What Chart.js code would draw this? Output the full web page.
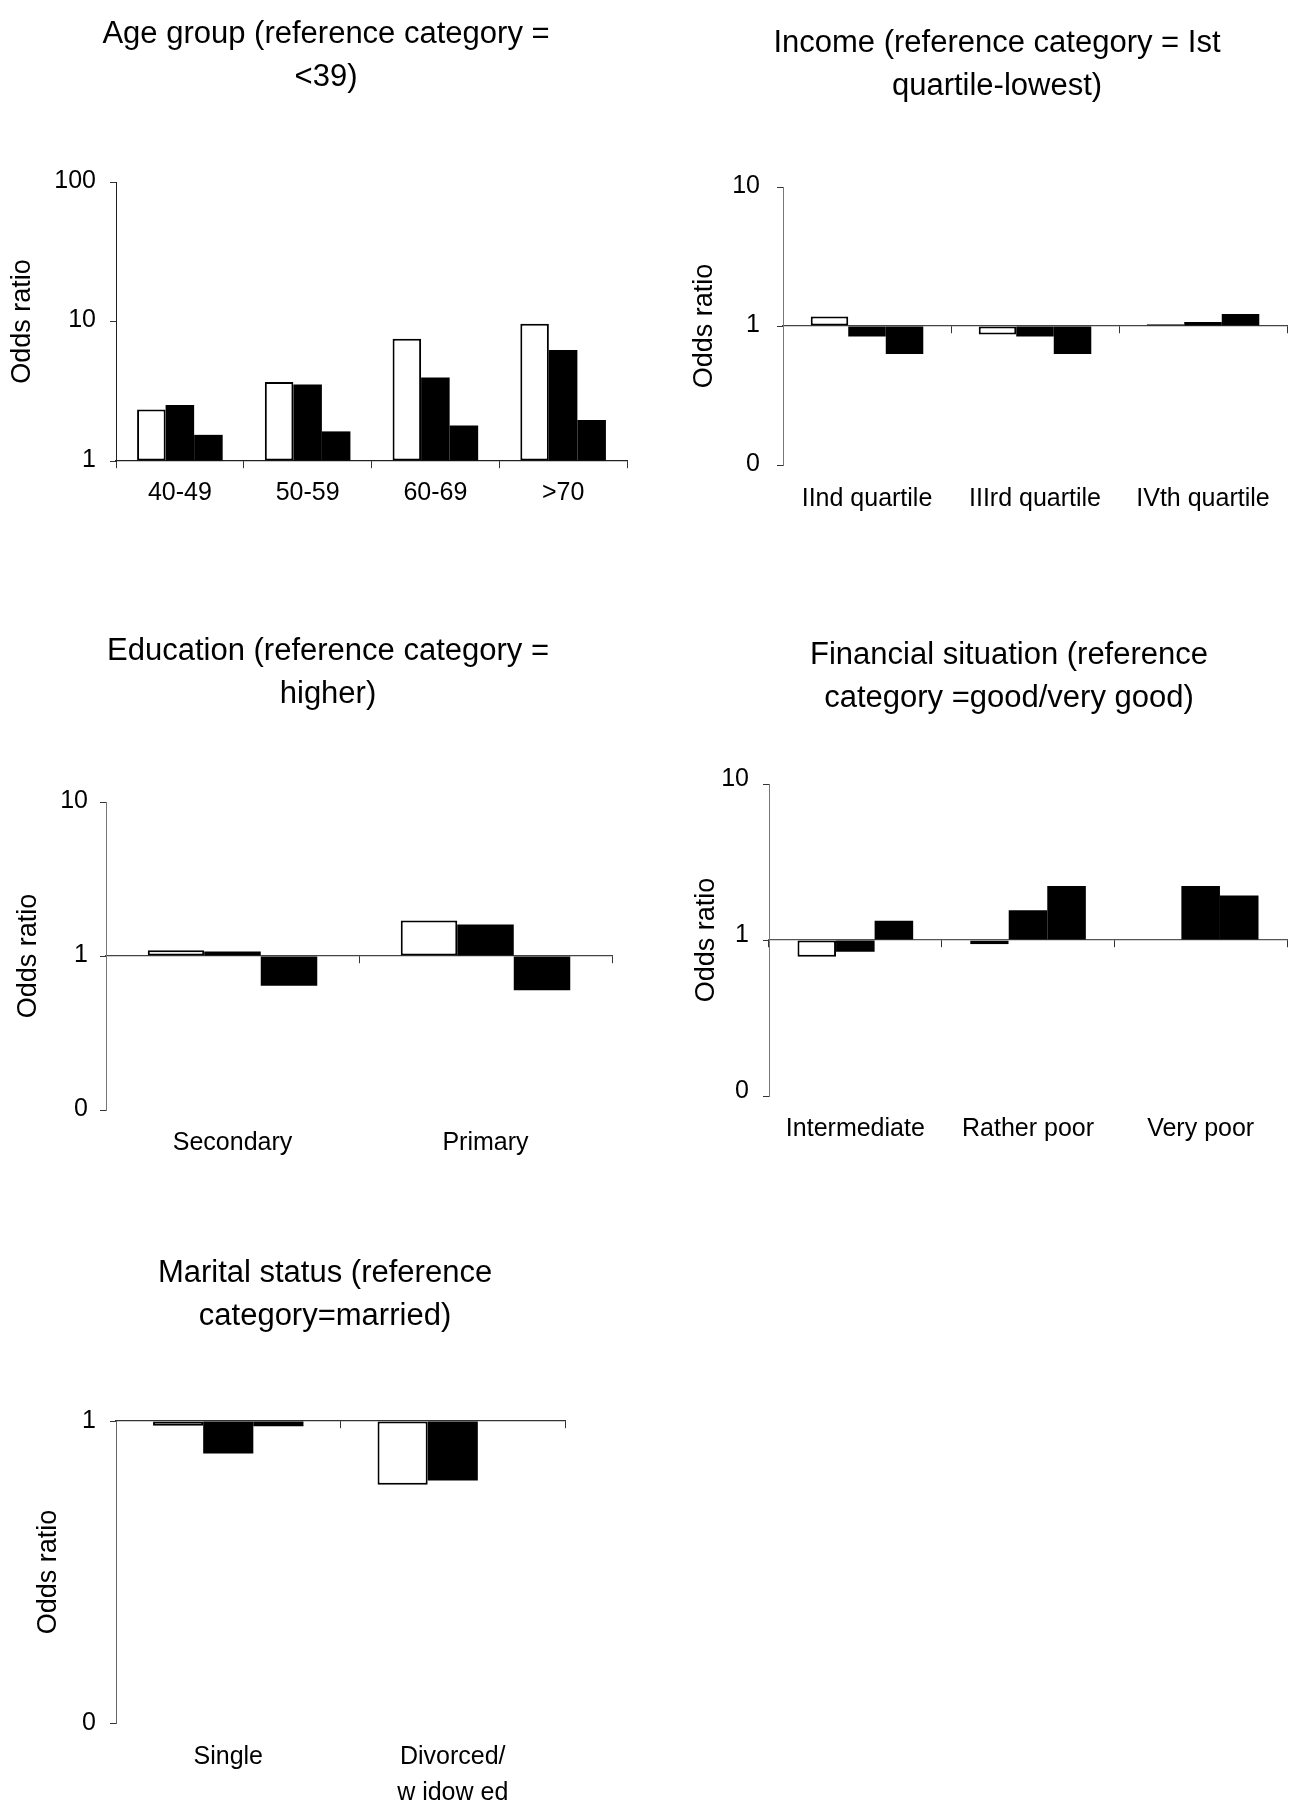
<!DOCTYPE html>
<html>
<head>
<meta charset="utf-8">
<script src="https://cdn.jsdelivr.net/npm/chart.js@4.4.1/dist/chart.umd.min.js"></script>
<style>
  html, body { margin: 0; padding: 0; background: #fff; width: 1302px; height: 1804px; overflow: hidden; }
  .panel { position: absolute; }
  .panel canvas { display: block; }
</style>
</head>
<body>
<div class="panel" id="p-age"><canvas id="c-age"></canvas></div>
<div class="panel" id="p-income"><canvas id="c-income"></canvas></div>
<div class="panel" id="p-edu"><canvas id="c-edu"></canvas></div>
<div class="panel" id="p-fin"><canvas id="c-fin"></canvas></div>
<div class="panel" id="p-mar"><canvas id="c-mar"></canvas></div>
<script>
// ---- Odds ratios (three models per category: white bar, then two black bars) ----
const ageCategories = ['40-49', '50-59', '60-69', '>70'];
const ageModel1 = [2.34, 3.68, 7.53, 9.63];
const ageModel2 = [2.52, 3.54, 3.97, 6.24];
const ageModel3 = [1.54, 1.63, 1.8, 1.97];
const ageTicks = [1, 10, 100];

const incomeCategories = ['IInd quartile', 'IIIrd quartile', 'IVth quartile'];
const incomeModel1 = [1.17, 0.87, 1.03];
const incomeModel2 = [0.84, 0.84, 1.07];
const incomeModel3 = [0.63, 0.63, 1.22];
const incomeTicks = [0.1, 1, 10];

const eduCategories = ['Secondary', 'Primary'];
const eduModel1 = [1.09, 1.7];
const eduModel2 = [1.07, 1.6];
const eduModel3 = [0.64, 0.6];
const eduTicks = [0.1, 1, 10];

const finCategories = ['Intermediate', 'Rather poor', 'Very poor'];
const finModel1 = [0.78, 0.94, 1.0];
const finModel2 = [0.84, 1.55, 2.22];
const finModel3 = [1.33, 2.22, 1.93];
const finTicks = [0.1, 1, 10];

const maritalCategories = ['Single', ['Divorced/', 'w idow ed']];
const maritalModel1 = [0.965, 0.615];
const maritalModel2 = [0.78, 0.635];
const maritalModel3 = [0.96, 1.0];
const maritalTicks = [0.1, 1];

const ageTitle = ['Age group (reference category =', '<39)'];
const incomeTitle = ['Income (reference category = Ist', 'quartile-lowest)'];
const eduTitle = ['Education (reference category =', 'higher)'];
const finTitle = ['Financial situation (reference', 'category =good/very good)'];
const maritalTitle = ['Marital status (reference', 'category=married)'];
const yAxisTitle = 'Odds ratio';

// ---- drawing ----
const FAMILY = "'Liberation Sans', Arial, Helvetica, sans-serif";
const TITLE_SIZE = 31, TITLE_LH = 1.4;
const TICK_SIZE = 25, CAT_SIZE = 25, YTITLE_SIZE = 27, LABEL_LH = 1.2;

Chart.defaults.font.family = FAMILY;
Chart.defaults.color = '#000';

function makePanel(panelId, canvasId, geo, spec) {
  const {box, area} = geo;
  const div = document.getElementById(panelId);
  div.style.left = box.left + 'px';
  div.style.top = box.top + 'px';
  const canvas = document.getElementById(canvasId);
  canvas.width = box.width;
  canvas.height = box.height;
  canvas.style.width = box.width + 'px';
  canvas.style.height = box.height + 'px';

  const catLH = geo.catLH || LABEL_LH;
  const titleLine = TITLE_SIZE * TITLE_LH;
  const titlePadTop = geo.titleY - box.top - titleLine / 2;
  const titlePadBottom = area.top - box.top - titlePadTop - 2 * titleLine;
  const yAxisWidth = area.left - box.left;
  const rightGap = box.left + box.width - area.right;
  const xLabelHeight = box.top + box.height - area.bottom;
  const catPad = geo.catY - area.bottom - (CAT_SIZE * catLH) / 2;
  const yTitlePad = geo.yTitleX - box.left - (YTITLE_SIZE * LABEL_LH) / 2;

  const bar = (values, fill, border) => ({
    data: values,
    base: 1,
    backgroundColor: fill,
    borderColor: '#000',
    borderWidth: border,
    borderSkipped: false,
    barPercentage: 1.0,
    categoryPercentage: 0.67
  });

  return new Chart(canvas, {
    type: 'bar',
    data: {
      labels: spec.categories,
      datasets: [
        bar(spec.series[0], '#ffffff', 2),
        bar(spec.series[1], '#000000', 0),
        bar(spec.series[2], '#000000', 0)
      ]
    },
    options: {
      responsive: false,
      animation: false,
      devicePixelRatio: 1,
      layout: { padding: 0 },
      plugins: {
        legend: { display: false },
        tooltip: { enabled: false },
        title: {
          display: true,
          text: spec.title,
          color: '#000',
          font: { family: FAMILY, size: TITLE_SIZE, weight: 'normal', lineHeight: TITLE_LH },
          padding: { top: titlePadTop, bottom: titlePadBottom }
        }
      },
      scales: {
        // category baseline drawn through the value 1
        x: {
          type: 'category',
          position: { y: 1 },
          offset: true,
          ticks: { display: false },
          grid: { display: true, drawOnChartArea: false, drawTicks: true, tickLength: 7, offset: true, color: '#333', lineWidth: 1 },
          border: { display: true, color: geo.xAxisColor, width: 1.2 }
        },
        // category names under the plot
        xNames: {
          type: 'category',
          position: 'bottom',
          offset: true,
          grid: { display: false, drawTicks: false },
          border: { display: false },
          ticks: {
            color: '#000',
            font: { family: FAMILY, size: CAT_SIZE, lineHeight: catLH },
            padding: catPad,
            maxRotation: 0,
            autoSkip: false
          },
          afterFit: (s) => { s.height = xLabelHeight; }
        },
        y: {
          type: 'logarithmic',
          position: 'left',
          min: spec.min,
          max: spec.max,
          afterBuildTicks: (s) => { s.ticks = spec.ticks.map(v => ({ value: v })); },
          afterFit: (s) => { s.width = yAxisWidth; },
          ticks: {
            color: '#000',
            font: { family: FAMILY, size: TICK_SIZE, lineHeight: LABEL_LH },
            padding: geo.yTickPad,
            labelOffset: geo.yLabelShift,
            autoSkip: false,
            callback: (v) => Number(v).toFixed(0)
          },
          grid: { display: true, drawOnChartArea: false, drawTicks: true, tickLength: 6, color: '#333', lineWidth: 1 },
          border: { display: true, color: geo.yAxisColor, width: 1 },
          title: {
            display: true,
            text: yAxisTitle,
            color: '#000',
            font: { family: FAMILY, size: YTITLE_SIZE, lineHeight: LABEL_LH },
            padding: { top: yTitlePad, bottom: 0 }
          }
        },
        // empty margin on the right so the title stays centred on the whole panel
        margin: {
          type: 'linear',
          position: 'right',
          grid: { display: false, drawTicks: false },
          border: { display: false },
          ticks: { display: false },
          afterFit: (s) => { s.width = rightGap; }
        }
      }
    }
  });
}

makePanel('p-age', 'c-age', {
  box: { left: 0, top: 0, width: 652, height: 540 },
  area: { left: 116, right: 627, top: 182, bottom: 461 },
  titleY: 34, catY: 493, yTitleX: 23, yTickPad: 14, yLabelShift: -1, yAxisColor: '#222', xAxisColor: '#222'
}, { categories: ageCategories, series: [ageModel1, ageModel2, ageModel3], min: 1, max: 100, ticks: ageTicks, title: ageTitle });

makePanel('p-income', 'c-income', {
  box: { left: 680, top: 0, width: 634, height: 540 },
  area: { left: 783, right: 1287, top: 187, bottom: 465 },
  titleY: 43, catY: 499, yTitleX: 705, yTickPad: 17, yLabelShift: -1, yAxisColor: '#777', xAxisColor: '#444'
}, { categories: incomeCategories, series: [incomeModel1, incomeModel2, incomeModel3], min: 0.1, max: 10, ticks: incomeTicks, title: incomeTitle });

makePanel('p-edu', 'c-edu', {
  box: { left: 0, top: 600, width: 656, height: 580 },
  area: { left: 106, right: 612, top: 802, bottom: 1110 },
  titleY: 651, catY: 1143, yTitleX: 29, yTickPad: 12, yLabelShift: -1, yAxisColor: '#777', xAxisColor: '#444'
}, { categories: eduCategories, series: [eduModel1, eduModel2, eduModel3], min: 0.1, max: 10, ticks: eduTicks, title: eduTitle });

makePanel('p-fin', 'c-fin', {
  box: { left: 690, top: 600, width: 638, height: 580 },
  area: { left: 769, right: 1287, top: 784, bottom: 1096 },
  titleY: 655, catY: 1129, yTitleX: 707, yTickPad: 14, yLabelShift: -5, yAxisColor: '#777', xAxisColor: '#555'
}, { categories: finCategories, series: [finModel1, finModel2, finModel3], min: 0.1, max: 10, ticks: finTicks, title: finTitle });

makePanel('p-mar', 'c-mar', {
  box: { left: 0, top: 1220, width: 650, height: 584 },
  area: { left: 116, right: 565, top: 1421, bottom: 1723 },
  titleY: 1273, catY: 1757, catLH: 1.45, yTitleX: 49, yTickPad: 14, yLabelShift: 0, yAxisColor: '#666', xAxisColor: '#333'
}, { categories: maritalCategories, series: [maritalModel1, maritalModel2, maritalModel3], min: 0.1, max: 1, ticks: maritalTicks, title: maritalTitle });
</script>
</body>
</html>
